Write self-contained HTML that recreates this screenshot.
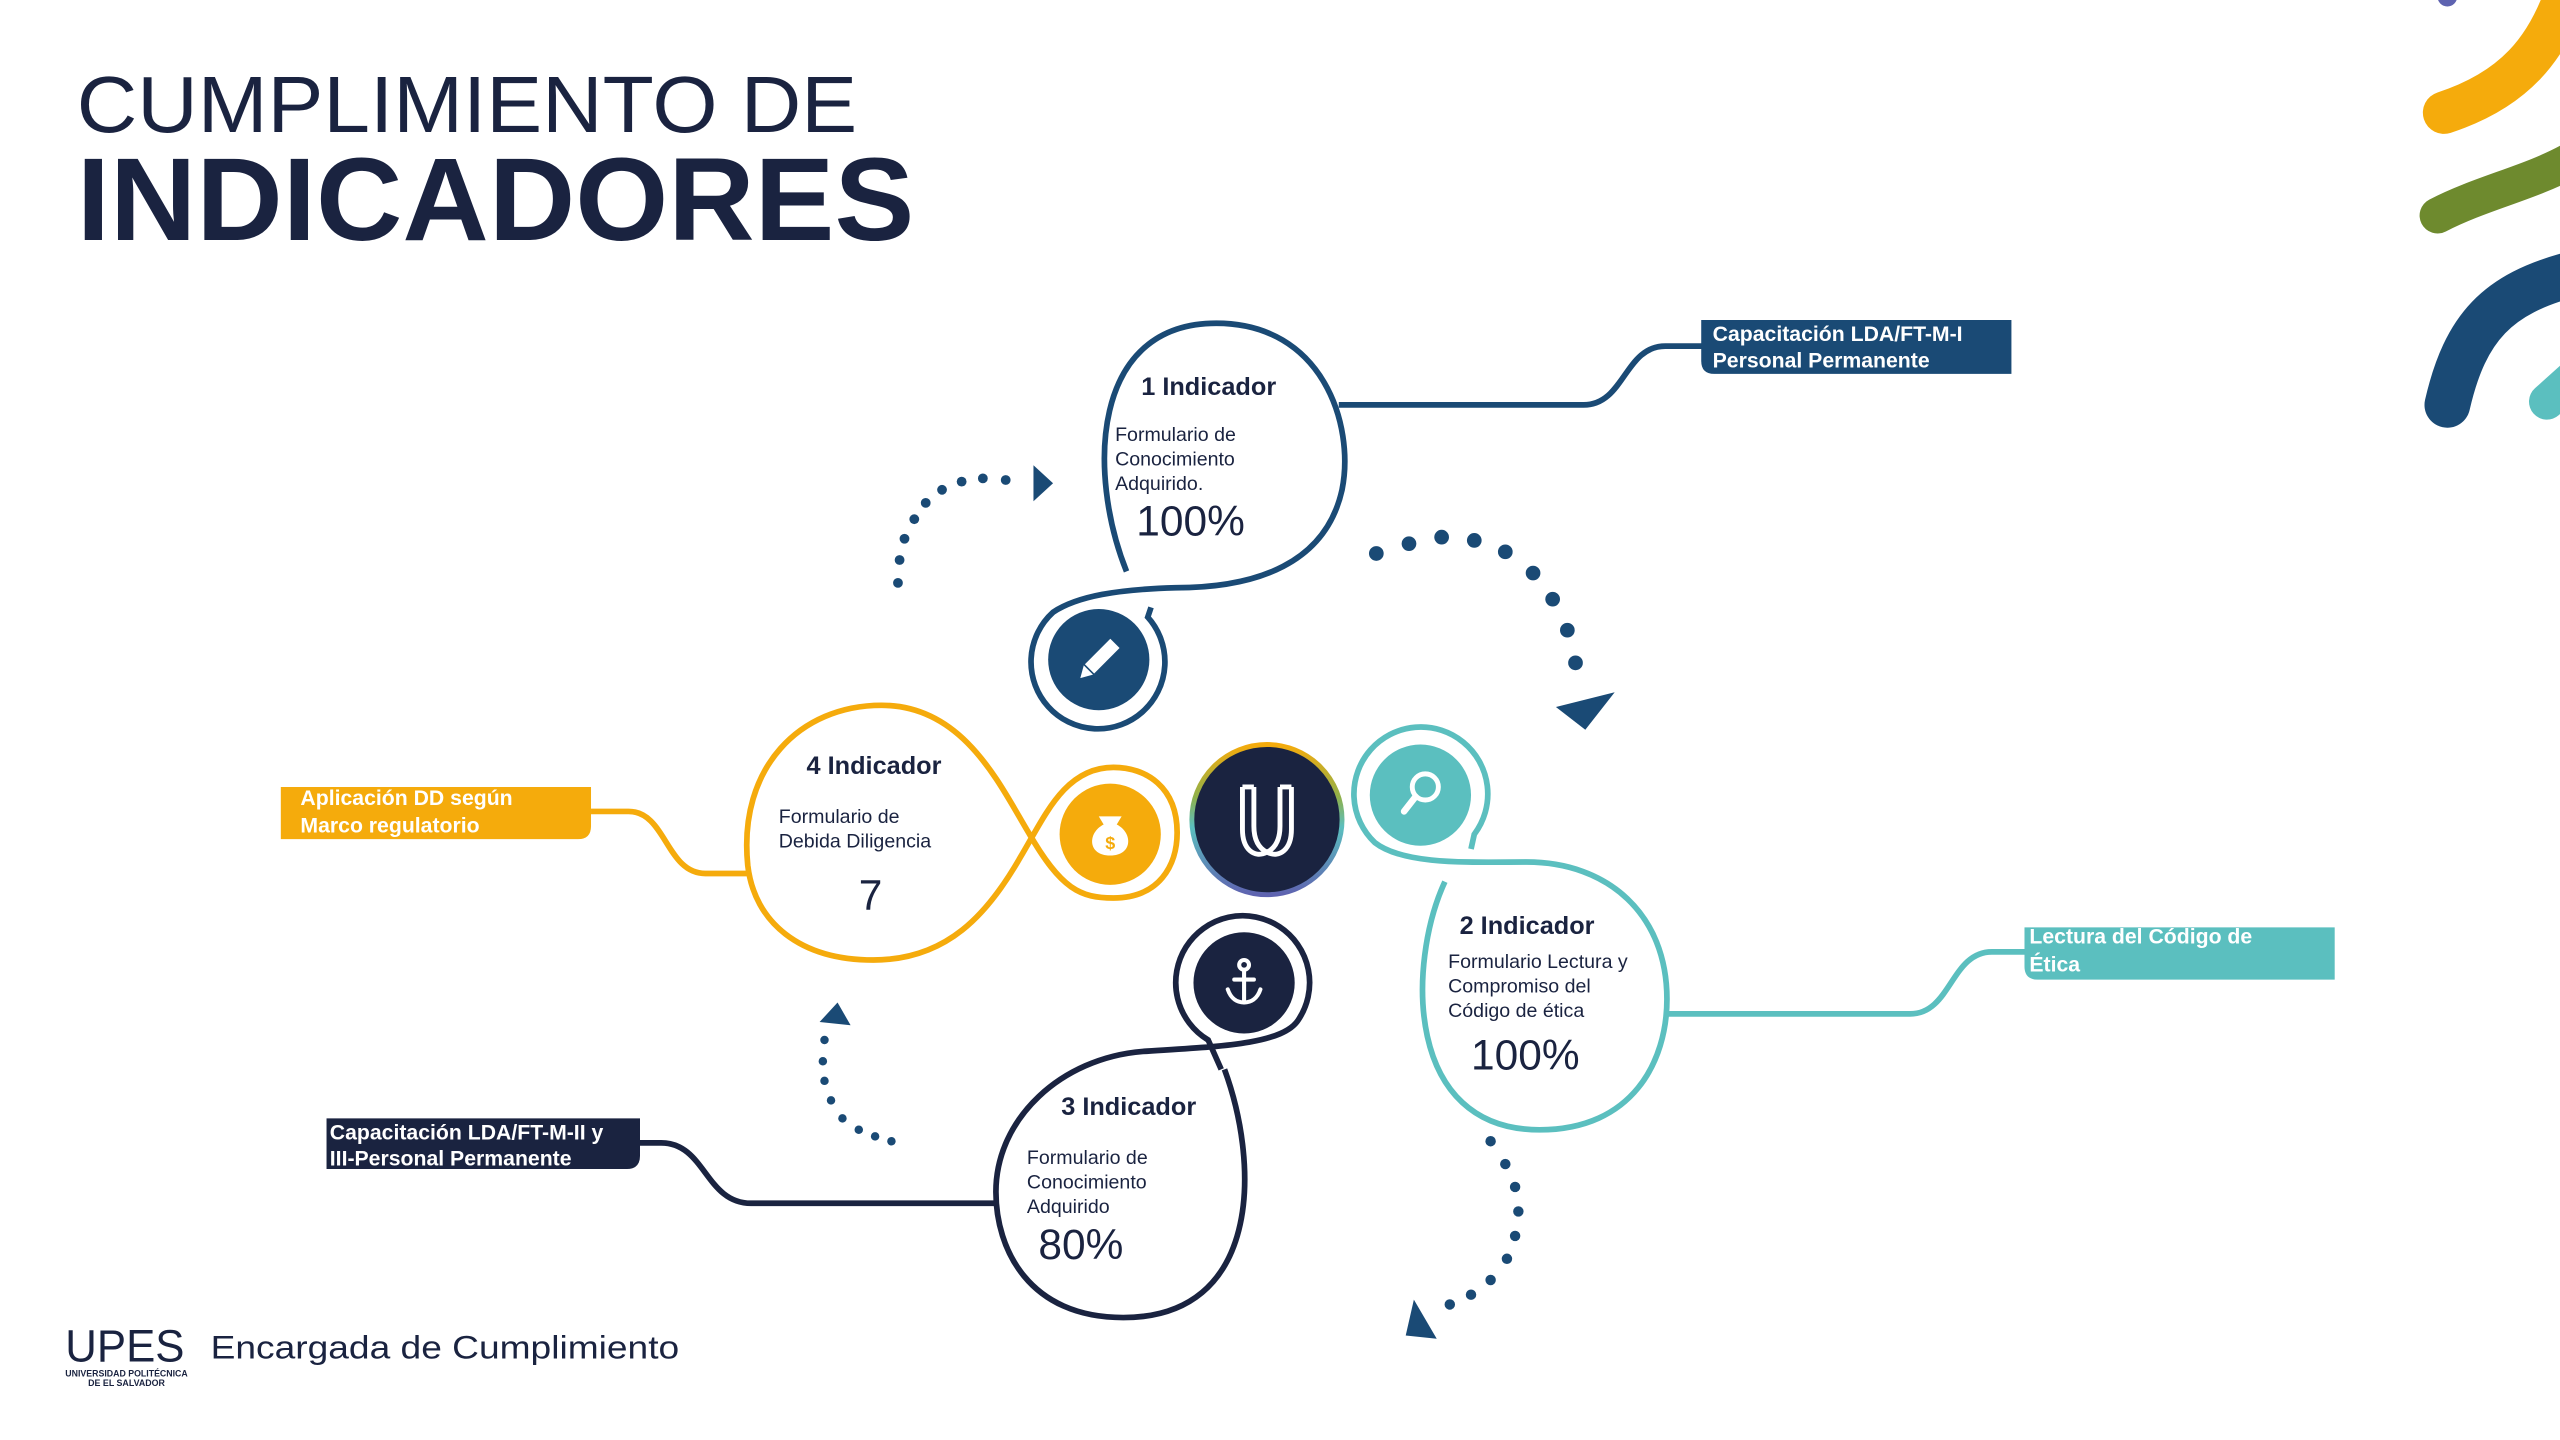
<!DOCTYPE html>
<html><head><meta charset="utf-8">
<style>
html,body{margin:0;padding:0;background:#fff;}
svg{display:block;}
text{font-family:"Liberation Sans",sans-serif;}
</style></head>
<body>
<svg width="2560" height="1440" viewBox="0 0 1568 882" xmlns="http://www.w3.org/2000/svg">
<defs>
<linearGradient id="rg" x1="0" y1="0" x2="0" y2="1">
<stop offset="0" stop-color="#f5ab0c"/>
<stop offset="0.35" stop-color="#8fb04a"/>
<stop offset="0.55" stop-color="#5bbfbf"/>
<stop offset="1" stop-color="#5e63b0"/>
</linearGradient>
</defs>

<!-- Title -->
<text x="47" y="81" font-size="49" fill="#1a2340" textLength="478" lengthAdjust="spacingAndGlyphs">CUMPLIMIENTO DE</text>
<text x="47" y="147" font-size="72" font-weight="bold" fill="#1a2340" textLength="513" lengthAdjust="spacingAndGlyphs">INDICADORES</text>

<!-- Top-right decorations -->
<circle cx="1499" cy="-2" r="6" fill="#5e63b0"/>
<path d="M1497,69 C1540,55 1560,30 1572,-5" stroke="#f5ab0c" stroke-width="26" fill="none" stroke-linecap="round"/>
<path d="M1493,132 C1520,118 1550,112 1575,98" stroke="#6e8a2e" stroke-width="22" fill="none" stroke-linecap="round"/>
<path d="M1499,248 C1510,200 1530,180 1575,168" stroke="#1a4a75" stroke-width="28" fill="none" stroke-linecap="round"/>
<path d="M1560,246 L1580,228" stroke="#5bbfbf" stroke-width="22" fill="none" stroke-linecap="round"/>

<!-- Indicator 1 (blue) -->
<g stroke="#1a4a75" stroke-width="3.5" fill="none">
<path d="M690,350 C666,290 668,198 745,198 C810,198 830,260 822,300 C812,345 770,360 720,360 C685,361 660,365 645,375 A41,41 0 1 0 703,378 L705,372"/>
<path d="M820,248 L970,248 C995,248 995,212 1020,212 L1045,212"/>
</g>
<circle cx="673" cy="404" r="31" fill="#1a4a75"/>
<g transform="translate(673,404) rotate(45)">
<rect x="-4" y="-14" width="8" height="22" fill="#fff"/>
<polygon points="-4,9 4,9 0,16" fill="#fff"/>
</g>
<path d="M1042,196 L1232,196 L1232,229 L1050,229 Q1042,229 1042,221 Z" fill="#1a4a75"/>
<text x="1049" y="209" font-size="13" font-weight="bold" fill="#fff">Capacitación LDA/FT-M-I</text>
<text x="1049" y="225" font-size="13" font-weight="bold" fill="#fff">Personal Permanente</text>
<text x="699" y="242" font-size="15.5" font-weight="bold" fill="#1a2340">1 Indicador</text>
<text x="683" y="270" font-size="12" fill="#1a2340">Formulario de</text>
<text x="683" y="285" font-size="12" fill="#1a2340">Conocimiento</text>
<text x="683" y="300" font-size="12" fill="#1a2340">Adquirido.</text>
<text x="696" y="328" font-size="26" fill="#1a2340">100%</text>

<!-- Indicator 2 (teal) -->
<g stroke="#5bbfbf" stroke-width="3.5" fill="none">
<path d="M885,540 C862,590 860,692 943,692 C1000,692 1021,650 1021,612 C1021,560 985,528 935,528 C900,528 860,530 842,516 A41,41 0 1 1 903,511 L901,520"/>
<path d="M1021,621 L1170,621 C1195,621 1195,583 1220,583 L1243,583"/>
</g>
<circle cx="870" cy="487" r="31" fill="#5bbfbf"/>
<circle cx="873" cy="482" r="8" fill="none" stroke="#fff" stroke-width="3"/>
<line x1="867" y1="488" x2="860" y2="497" stroke="#fff" stroke-width="4" stroke-linecap="round"/>
<path d="M1240,568 L1430,568 L1430,600 L1248,600 Q1240,600 1240,592 Z" fill="#5bbfbf"/>
<text x="1243" y="578" font-size="13" font-weight="bold" fill="#fff">Lectura del Código de</text>
<text x="1243" y="595" font-size="13" font-weight="bold" fill="#fff">Ética</text>
<text x="894" y="572" font-size="15.5" font-weight="bold" fill="#1a2340">2 Indicador</text>
<text x="887" y="593" font-size="12" fill="#1a2340">Formulario Lectura y</text>
<text x="887" y="608" font-size="12" fill="#1a2340">Compromiso del</text>
<text x="887" y="623" font-size="12" fill="#1a2340">Código de ética</text>
<text x="901" y="655" font-size="26" fill="#1a2340">100%</text>

<!-- Indicator 3 (navy) -->
<g stroke="#1a2340" stroke-width="3.5" fill="none">
<path d="M750,655 C772,715 772,807 688,807 C630,807 610,765 610,730 C610,685 650,648 700,644 C745,641 785,640 795,625 A41,41 0 1 0 740,637 L748,655"/>
<path d="M610,737 L460,737 C432,737 432,700 405,700 L390,700"/>
</g>
<circle cx="762" cy="602" r="31" fill="#1a2340"/>
<g stroke="#fff" stroke-width="2.5" fill="none" stroke-linecap="round">
<circle cx="762" cy="591" r="3"/>
<line x1="762" y1="594" x2="762" y2="614"/>
<line x1="756" y1="600" x2="768" y2="600"/>
<path d="M752,606 C754,612 758,614 762,614 C766,614 770,612 772,606"/>
</g>
<path d="M200,685 L392,685 L392,708 Q392,716 384,716 L200,716 Z" fill="#1a2340"/>
<text x="202" y="698" font-size="13" font-weight="bold" fill="#fff">Capacitación LDA/FT-M-II y</text>
<text x="202" y="714" font-size="13" font-weight="bold" fill="#fff">III-Personal Permanente</text>
<text x="650" y="683" font-size="15.5" font-weight="bold" fill="#1a2340">3 Indicador</text>
<text x="629" y="713" font-size="12" fill="#1a2340">Formulario de</text>
<text x="629" y="728" font-size="12" fill="#1a2340">Conocimiento</text>
<text x="629" y="743" font-size="12" fill="#1a2340">Adquirido</text>
<text x="636" y="771" font-size="26" fill="#1a2340">80%</text>

<!-- Indicator 4 (yellow) -->
<g stroke="#f5ab0c" stroke-width="3.5" fill="none">
<path d="M458,530 C452,470 490,432 540,432 C590,432 612,480 630,510 C650,545 662,550 682,550 C710,550 721,530 721,510 C721,482 702,470 682,470 C652,470 640,500 625,525 C605,560 580,588 535,588 C490,588 462,565 458,530"/>
<path d="M458,535 L432,535 C408,535 408,497 385,497 L362,497"/>
</g>
<circle cx="680" cy="511" r="31" fill="#f5ab0c"/>
<path d="M673,500 L687,500 L684,505 C694,510 694,524 680,524 C666,524 666,510 676,505 Z" fill="#fff"/>
<text x="680" y="520" font-size="11" font-weight="bold" fill="#f5ab0c" text-anchor="middle">$</text>
<path d="M172,482 L362,482 L362,506 Q362,514 354,514 L172,514 Z" fill="#f5ab0c"/>
<text x="184" y="493" font-size="13" font-weight="bold" fill="#fff">Aplicación DD según</text>
<text x="184" y="510" font-size="13" font-weight="bold" fill="#fff">Marco regulatorio</text>
<text x="494" y="474" font-size="15.5" font-weight="bold" fill="#1a2340">4 Indicador</text>
<text x="477" y="504" font-size="12" fill="#1a2340">Formulario de</text>
<text x="477" y="519" font-size="12" fill="#1a2340">Debida Diligencia</text>
<text x="526" y="557" font-size="26" fill="#1a2340">7</text>

<!-- Center logo -->
<circle cx="776" cy="502" r="46" fill="#1a2340" stroke="url(#rg)" stroke-width="3"/>
<path d="M761,482 L761,508 C761,520 768,526 776,522 C784,526 791,520 791,508 L791,482 M768,482 L768,506 C768,516 772,520 776,522 M784,482 L784,506 C784,516 780,520 776,522 M761,482 L768,482 M784,482 L791,482" stroke="#fff" stroke-width="3" fill="none" stroke-linejoin="round"/>

<!-- Dotted arcs -->
<g fill="#1a4a75">
<circle cx="550" cy="357" r="3"/><circle cx="551" cy="343" r="3"/><circle cx="554" cy="330" r="3"/><circle cx="560" cy="318" r="3"/><circle cx="567" cy="308" r="3"/><circle cx="577" cy="300" r="3"/><circle cx="589" cy="295" r="3"/><circle cx="602" cy="293" r="3"/><circle cx="616" cy="294" r="3"/>
<polygon points="633,285 645,296 633,307"/>
<circle cx="843" cy="339" r="4.5"/><circle cx="863" cy="333" r="4.5"/><circle cx="883" cy="329" r="4.5"/><circle cx="903" cy="331" r="4.5"/><circle cx="922" cy="338" r="4.5"/><circle cx="939" cy="351" r="4.5"/><circle cx="951" cy="367" r="4.5"/><circle cx="960" cy="386" r="4.5"/><circle cx="965" cy="406" r="4.5"/>
<polygon points="953,433 989,424 971,447"/>
<circle cx="913" cy="699" r="3.2"/><circle cx="922" cy="713" r="3.2"/><circle cx="928" cy="727" r="3.2"/><circle cx="930" cy="742" r="3.2"/><circle cx="928" cy="757" r="3.2"/><circle cx="923" cy="771" r="3.2"/><circle cx="913" cy="784" r="3.2"/><circle cx="901" cy="793" r="3.2"/><circle cx="888" cy="799" r="3.2"/>
<polygon points="866,796 861,818 880,820"/>
<circle cx="505" cy="637" r="2.6"/><circle cx="504" cy="650" r="2.6"/><circle cx="505" cy="662" r="2.6"/><circle cx="509" cy="674" r="2.6"/><circle cx="516" cy="685" r="2.6"/><circle cx="526" cy="692" r="2.6"/><circle cx="536" cy="696" r="2.6"/><circle cx="546" cy="699" r="2.6"/>
<polygon points="502,626 521,628 513,614"/>
</g>

<!-- Footer logo -->
<text x="40" y="834" font-size="28" fill="#1a2340" textLength="73" lengthAdjust="spacingAndGlyphs">UPES</text>
<text x="40" y="843" font-size="5.5" font-weight="bold" fill="#1a2340" textLength="75" lengthAdjust="spacingAndGlyphs">UNIVERSIDAD POLITÉCNICA</text>
<text x="54" y="849" font-size="5.5" font-weight="bold" fill="#1a2340" textLength="47" lengthAdjust="spacingAndGlyphs">DE EL SALVADOR</text>
<text x="129" y="832" font-size="20" fill="#1a2340" textLength="287" lengthAdjust="spacingAndGlyphs">Encargada de Cumplimiento</text>
</svg>
</body></html>
